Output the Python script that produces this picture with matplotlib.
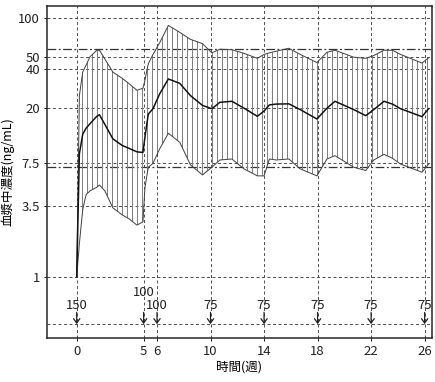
import matplotlib
matplotlib.use("Agg")
import matplotlib.pyplot as plt
import numpy as np

plt.rcParams['font.family'] = ['Noto Sans CJK JP', 'DejaVu Sans']
plt.rcParams['hatch.linewidth'] = 0.8

# time (weeks)
weeks = [0, 0.2, 0.45, 0.7, 1.0, 1.5, 1.7, 2.1, 2.7, 3.4, 3.9, 4.5, 4.95,
         5.1, 5.35, 5.7, 6.2, 6.85, 7.7, 8.5, 9.4, 10.1, 10.7, 11.6, 12.5,
         13.5, 14.0, 14.4, 14.9, 15.85, 16.7, 17.95, 18.7, 19.3, 20.7, 21.6,
         22.2, 22.96, 23.6, 24.2, 25.8, 26.3]
upper = [1, 25, 38, 43, 50, 56, 56, 48, 38, 34, 31, 27.5, 28.5,
         33, 44, 52, 64, 87, 77, 68, 63, 53.5, 57, 56.5, 53,
         48.5, 52, 53.5, 55, 58, 52, 45, 54, 56, 49.5, 48.5,
         51, 56, 56, 52, 44.6, 49]
median = [1, 8.9, 12.6, 14, 15.2, 17.3, 17.8, 15, 11.6, 10.3, 9.8, 9.2, 9.1,
          12, 18, 19.8, 25.8, 33.6, 31.1, 25, 21, 19.8, 22.2, 22.6, 20,
          17.3, 19, 21.2, 21.5, 21.6, 19.5, 16.5, 20, 22.6, 19.5, 17.5,
          19.5, 22.6, 21.5, 19.8, 17.2, 19.8]
lower = [1, 1.8, 3.3, 4.3, 4.6, 4.9, 5.1, 4.6, 3.4, 3.0, 2.8, 2.5, 2.65,
         4.9, 7.0, 7.5, 9.7, 12.8, 10.9, 7.3, 6.1, 7.0, 7.96, 8.1, 6.8,
         6.0, 6.0, 8.1, 7.96, 8.1, 6.8, 6.0, 8.1, 8.6, 7.0, 6.6,
         7.96, 8.8, 8.2, 7.4, 6.4, 7.4]

ref_levels = [57, 7]
ytick_vals = [1, 3.5, 7.5, 20, 40, 50, 100]
ytick_labels = ['1', '3.5', '7.5', '20', '40', '50', '100']
dose_weeks = [0, 5, 6, 10, 14, 18, 22, 26]
doses = ['150', '100', '100', '75', '75', '75', '75', '75']
arrow_base = 0.43

dpi = 90
fig = plt.figure(figsize=(436 / dpi, 382 / dpi), dpi=dpi)
ax = fig.add_axes([47 / 436, 44 / 382, 385 / 436, 332 / 382])
ax.set_yscale('log')
ax.set_xlim(-2.22, 26.55)
ax.set_ylim(0.336, 123)

grid_kw = dict(color='#555555', lw=0.8, ls=(0, (3, 2.5)), zorder=1)
for v in ytick_vals + [arrow_base]:
    ax.axhline(v, **grid_kw)
for w in dose_weeks:
    ax.axvline(w, **grid_kw)
for v in ref_levels:
    ax.axhline(v, color='#333333', lw=1.0, ls=(0, (7, 2, 1.5, 2)), zorder=2)

ax.fill_between(weeks, lower, upper, facecolor='none', edgecolor='#808080',
                hatch='|||', lw=0, zorder=3)
ax.plot(weeks, upper, color='#444444', lw=0.8, zorder=4)
ax.plot(weeks, lower, color='#444444', lw=0.8, zorder=4)
ax.plot(weeks, median, color='#111111', lw=1.2, zorder=5)

for i, (w, d) in enumerate(zip(dose_weeks, doses)):
    ax.annotate('', xy=(w, arrow_base), xytext=(w, 0.53),
                arrowprops=dict(arrowstyle='->,head_length=0.35,head_width=0.25',
                                color='#222222', lw=1.0, shrinkA=0, shrinkB=0),
                zorder=6)
    raised = i + 1 < len(dose_weeks) and dose_weeks[i + 1] - w <= 1
    ax.text(w, 0.75 if raised else 0.60, d, ha='center', va='center',
            fontsize=10.5, color='#222222')

ax.set_yticks(ytick_vals)
ax.set_yticklabels(ytick_labels)
ax.yaxis.set_minor_locator(matplotlib.ticker.NullLocator())
ax.set_xticks(dose_weeks)
ax.set_xticklabels([str(w) for w in dose_weeks])
ax.tick_params(labelsize=10.5, length=2.5, width=0.8, colors='#222222', pad=3)
for s in ax.spines.values():
    s.set_color('#222222')
    s.set_linewidth(1.2)

ax.set_ylabel('血漿中濃度(ng/mL)', fontsize=10, labelpad=3)
ax.set_xlabel('時間(週)', fontsize=10, labelpad=2)

fig.savefig('out.png', dpi=dpi)
